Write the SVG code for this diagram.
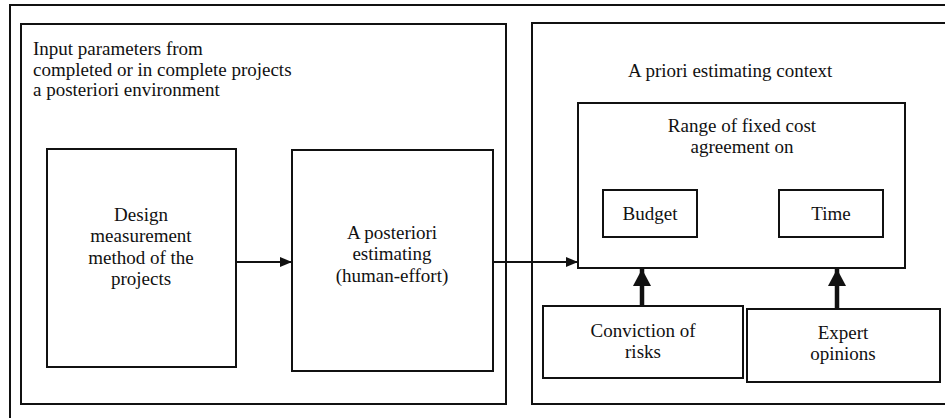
<svg xmlns="http://www.w3.org/2000/svg" width="945" height="418" viewBox="0 0 945 418">
  <style>
    .box { fill: none; stroke: #111; stroke-width: 2; }
    .t { font-family: "Liberation Serif", "Times New Roman", serif; font-size: 19px; fill: #111; }
    .c { text-anchor: middle; }
    .wire { fill: none; stroke: #111; stroke-width: 2; }
    .thick { fill: none; stroke: #111; stroke-width: 4.5; }
  </style>
  <defs>
    <marker id="arrow" markerWidth="12" markerHeight="10" refX="11" refY="5" orient="auto" markerUnits="userSpaceOnUse">
      <path d="M0,0 L12,5 L0,10 Z" fill="#111"/>
    </marker>
    <marker id="bigArrow" markerWidth="18" markerHeight="18" refX="17" refY="9" orient="auto" markerUnits="userSpaceOnUse">
      <path d="M0,0 L17,9 L0,18 Z" fill="#111"/>
    </marker>
  </defs>
  <rect width="945" height="418" fill="#fff"/>

  <!-- outer frame (open on the right and bottom) -->
  <path class="box" d="M10,418 V5 H945"/>

  <!-- a posteriori environment -->
  <g id="posteriori-env">
    <rect class="box" x="21" y="24" width="485" height="380"/>
    <text class="t" x="33" y="55">Input parameters from</text>
    <text class="t" x="33" y="76">completed or in complete projects</text>
    <text class="t" x="33" y="96">a posteriori environment</text>
  </g>

  <g id="design">
    <rect class="box" x="47" y="149" width="189" height="218"/>
    <text class="t c" x="141" y="221">Design</text>
    <text class="t c" x="141" y="242">measurement</text>
    <text class="t c" x="141" y="264">method of the</text>
    <text class="t c" x="141" y="285">projects</text>
  </g>

  <g id="posteriori-estimating">
    <rect class="box" x="292" y="150" width="201" height="221"/>
    <text class="t c" x="392" y="239">A posteriori</text>
    <text class="t c" x="392" y="260">estimating</text>
    <text class="t c" x="392" y="282">(human-effort)</text>
  </g>

  <!-- a priori context -->
  <g id="priori-context">
    <path class="box" d="M945,23 H532 V404 H945"/>
    <text class="t" x="628" y="77">A priori estimating context</text>
  </g>

  <g id="range">
    <rect class="box" x="578" y="103" width="327" height="165"/>
    <text class="t c" x="742" y="132">Range of fixed cost</text>
    <text class="t c" x="742" y="153">agreement on</text>
  </g>

  <g id="budget">
    <rect class="box" x="603" y="190" width="94" height="47"/>
    <text class="t c" x="650" y="220">Budget</text>
  </g>

  <g id="time">
    <rect class="box" x="779" y="190" width="104" height="47"/>
    <text class="t c" x="831" y="220">Time</text>
  </g>

  <g id="risks">
    <rect class="box" x="543" y="306" width="200" height="72"/>
    <text class="t c" x="643" y="337">Conviction of</text>
    <text class="t c" x="643" y="358">risks</text>
  </g>

  <g id="experts">
    <rect class="box" x="747" y="309" width="193" height="73"/>
    <text class="t c" x="843" y="339">Expert</text>
    <text class="t c" x="843" y="360">opinions</text>
  </g>

  <g id="connectors">
    <line class="wire" x1="236" y1="262" x2="291" y2="262" marker-end="url(#arrow)"/>
    <line class="wire" x1="493" y1="262" x2="577" y2="262" marker-end="url(#arrow)"/>
    <line class="thick" x1="642" y1="306" x2="642" y2="269" marker-end="url(#bigArrow)"/>
    <line class="thick" x1="837" y1="309" x2="837" y2="269" marker-end="url(#bigArrow)"/>
  </g>
</svg>
